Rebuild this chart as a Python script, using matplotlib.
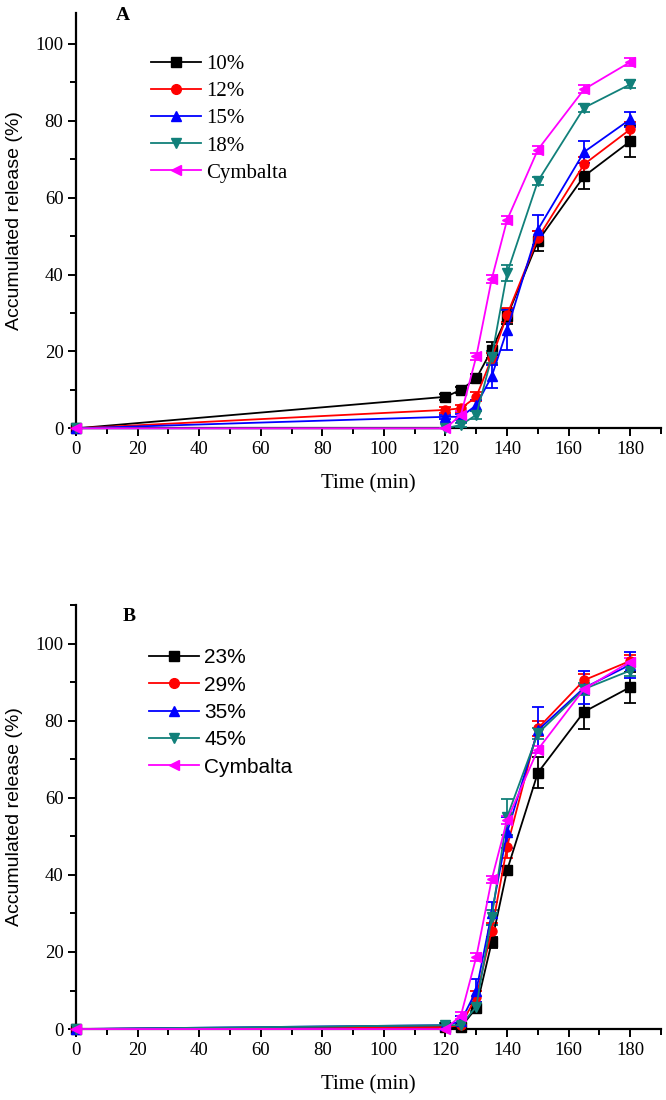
import matplotlib
matplotlib.use("Agg")
import matplotlib.pyplot as plt
from matplotlib.lines import Line2D
from matplotlib.ticker import MultipleLocator

# tiempos de muestreo (min)
tiempo = [0, 120, 125, 130, 135, 140, 150, 165, 180]

# Panel A
etiquetas_a = ["10%", "12%", "15%", "18%", "Cymbalta"]
a_10 = [0, 8.2, 10.0, 13.0, 20.4, 29.1, 48.7, 65.6, 74.7]
a_12 = [0, 4.8, 5.2, 8.2, 18.2, 29.5, 49.5, 68.7, 77.8]
a_15 = [0, 3.0, 3.0, 6.0, 13.5, 25.6, 51.7, 71.9, 80.4]
a_18 = [0, 0, 0.9, 3.5, 18.5, 40.4, 64.3, 83.4, 89.5]
a_cym = [0, 0, 3.5, 18.7, 38.8, 54.2, 72.5, 88.2, 95.3]
err_a_10 = [0, 0.8, 0.8, 1.2, 2.0, 2.0, 2.6, 3.3, 4.0]
err_a_12 = [0, 0.8, 1.0, 1.2, 1.5, 1.8, 1.8, 2.0, 2.0]
err_a_15 = [0, 0.5, 0.8, 1.5, 3.0, 5.2, 3.9, 2.9, 2.0]
err_a_18 = [0, 0, 0.5, 1.0, 1.5, 2.0, 1.0, 1.0, 1.0]
err_a_cym = [0, 0, 1.0, 1.0, 1.0, 1.0, 1.0, 1.0, 1.0]

# Panel B
etiquetas_b = ["23%", "29%", "35%", "45%", "Cymbalta"]
b_23 = [0, 0.5, 0.5, 5.5, 22.5, 41.2, 66.5, 82.3, 88.7]
b_29 = [0, 0.5, 1.0, 8.4, 25.5, 47.3, 78.0, 90.5, 95.5]
b_35 = [0, 1.0, 2.0, 10.0, 30.0, 51.0, 77.5, 88.5, 94.5]
b_45 = [0, 1.0, 1.0, 5.8, 29.0, 55.0, 76.7, 88.2, 93.0]
b_cym = [0, 0, 3.5, 18.7, 38.8, 54.2, 72.5, 88.2, 95.3]
err_b_23 = [0, 0.3, 0.5, 1.0, 1.5, 1.0, 4.0, 4.5, 4.0]
err_b_29 = [0, 0.3, 0.5, 1.5, 2.0, 3.0, 2.0, 1.5, 1.5]
err_b_35 = [0, 0.5, 1.5, 3.0, 3.0, 4.0, 6.0, 4.3, 3.4]
err_b_45 = [0, 0.5, 0.5, 1.0, 2.0, 4.7, 1.5, 1.5, 1.5]
err_b_cym = [0, 0, 1.0, 1.0, 1.0, 1.0, 1.0, 1.0, 1.0]

colores = ["#000000", "#FF0000", "#0000FF", "#11807A", "#FF00FF"]
marcadores = ["s", "o", "^", "v", "<"]

serif = "Liberation Serif"
sans = "Liberation Sans"


def dibujar_panel(ax, series, errores, etiquetas, letra, ymax, fuente_leyenda,
                  pos_leyenda, pos_letra, espacio):
    handles = []
    for y, e, c, m, lab in zip(series, errores, colores, marcadores, etiquetas):
        ax.errorbar(tiempo, y, yerr=e, color=c, marker=m, markersize=6.5,
                    linewidth=1.3, elinewidth=1.3, capsize=4, capthick=1.3,
                    clip_on=False, zorder=3)
        # en la leyenda solo linea + marcador, sin barras de error
        handles.append(Line2D([], [], color=c, marker=m, markersize=7,
                              linewidth=1.3, label=lab))

    ax.set_xlim(0, 190)
    ax.set_ylim(0, ymax)
    ax.xaxis.set_major_locator(MultipleLocator(20))
    ax.xaxis.set_minor_locator(MultipleLocator(10))
    ax.yaxis.set_major_locator(MultipleLocator(20))
    ax.yaxis.set_minor_locator(MultipleLocator(10))

    for lado in ["top", "right"]:
        ax.spines[lado].set_visible(False)
    for lado in ["left", "bottom"]:
        ax.spines[lado].set_linewidth(1.6)

    ax.tick_params(which="major", direction="out", length=6, width=1.4,
                   labelsize=13.5, pad=3)
    ax.tick_params(which="minor", direction="out", length=4, width=1.4)
    for t in ax.get_xticklabels() + ax.get_yticklabels():
        t.set_fontfamily(serif)

    ax.set_xlabel("Time (min)", fontfamily=serif, fontsize=15, labelpad=12)
    ax.set_ylabel("Accumulated release (%)", fontfamily=sans, fontsize=14,
                  labelpad=9)

    ax.text(pos_letra[0], pos_letra[1], letra, transform=ax.transAxes,
            fontfamily=serif, fontweight="bold", fontsize=14,
            ha="left", va="center")

    ax.legend(handles=handles, loc="upper left", bbox_to_anchor=pos_leyenda,
              frameon=False, prop={"family": fuente_leyenda, "size": 15},
              handlelength=2.4, handletextpad=0.25, labelspacing=espacio,
              borderpad=0, borderaxespad=0)


fig = plt.figure(figsize=(6.66, 11), dpi=100)
ax_a = fig.add_axes([0.114, 0.6106, 0.8786, 0.3774])
ax_b = fig.add_axes([0.114, 0.0645, 0.8786, 0.3855])

dibujar_panel(ax_a, [a_10, a_12, a_15, a_18, a_cym],
              [err_a_10, err_a_12, err_a_15, err_a_18, err_a_cym],
              etiquetas_a, "A", 108, serif, (0.128, 0.9), (0.068, 0.995), 0.36)
dibujar_panel(ax_b, [b_23, b_29, b_35, b_45, b_cym],
              [err_b_23, err_b_29, err_b_35, err_b_45, err_b_cym],
              etiquetas_b, "B", 110, sans, (0.125, 0.898), (0.08, 0.972), 0.4)

fig.savefig("out.png", dpi=100)
